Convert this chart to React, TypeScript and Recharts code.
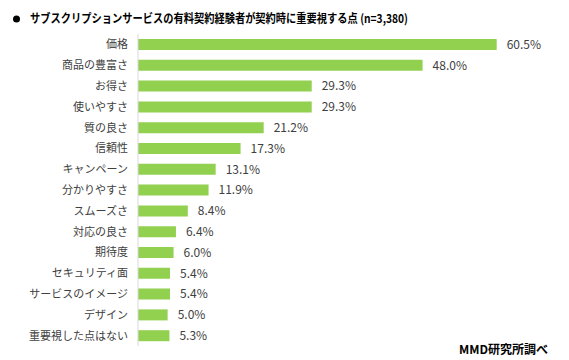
import React from "react";
import { BarChart, Bar, XAxis, YAxis, LabelList } from "recharts";

// 項目
const categories = [
  "価格",
  "商品の豊富さ",
  "お得さ",
  "使いやすさ",
  "質の良さ",
  "信頼性",
  "キャンペーン",
  "分かりやすさ",
  "スムーズさ",
  "対応の良さ",
  "期待度",
  "セキュリティ面",
  "サービスのイメージ",
  "デザイン",
  "重要視した点はない",
];

// 割合(%)
const values = [60.5, 48.0, 29.3, 29.3, 21.2, 17.3, 13.1, 11.9, 8.4, 6.4, 6.0, 5.4, 5.4, 5.0, 5.3];

const title = "サブスクリプションサービスの有料契約経験者が契約時に重要視する点 (n=3,380)";
const source = "MMD研究所調べ";

const data = categories.map((name, i) => ({ name, value: values[i] }));

const FONT = "'Noto Sans CJK JP', 'Noto Sans', sans-serif";

export default function App() {
  return (
    <div style={{ position: "absolute", left: 0, top: 0, width: 569, height: 360, background: "#fff", fontFamily: FONT }}>
      <BarChart
        width={569}
        height={360}
        data={data}
        layout="vertical"
        margin={{ top: 34, right: 16, bottom: 14, left: 0 }}
        barSize={11}
      >
        <XAxis type="number" domain={[0, 70]} hide />
        <YAxis
          type="category"
          dataKey="name"
          width={138}
          tickLine={false}
          tickMargin={4}
          axisLine={{ stroke: "#d9d9d9" }}
          tick={{ fontSize: 11, fill: "#404040", fontFamily: FONT }}
          interval={0}
        />
        <Bar dataKey="value" fill="#92D050" isAnimationActive={false}>
          <LabelList
            dataKey="value"
            position="right"
            offset={10}
            formatter={(v: number) => `${v.toFixed(1)}%`}
            style={{ fontSize: 12, fill: "#404040", fontFamily: FONT }}
          />
        </Bar>
      </BarChart>
      <svg width={569} height={360} style={{ position: "absolute", left: 0, top: 0, pointerEvents: "none" }}>
        <circle cx={16.5} cy={19} r={3.5} fill="#000" />
        <text
          x={30}
          y={23}
          fontSize={12}
          fontWeight="bold"
          fill="#000"
          fontFamily={FONT}
          textLength={378}
          lengthAdjust="spacingAndGlyphs"
        >
          {title}
        </text>
        <text x={548} y={354} fontSize={12} fontWeight="bold" fill="#000" fontFamily={FONT} textAnchor="end">
          {source}
        </text>
      </svg>
    </div>
  );
}
